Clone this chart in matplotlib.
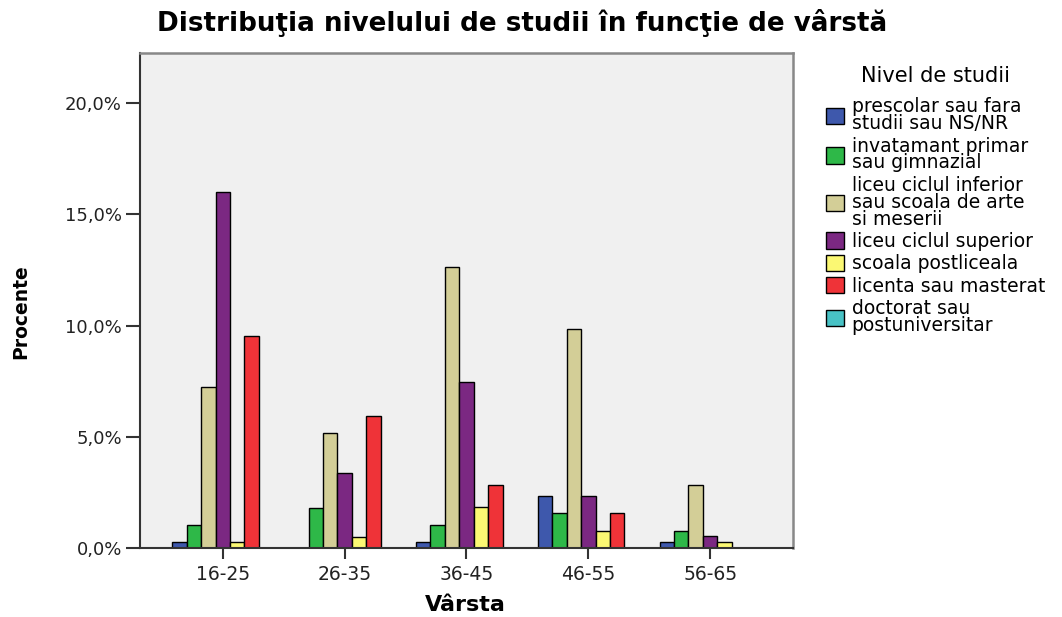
import matplotlib
matplotlib.use("Agg")
import matplotlib.pyplot as plt
import numpy as np

plt.rcParams['font.family'] = ['DejaVu Sans']

# date (procente)
grupe = ['16-25', '26-35', '36-45', '46-55', '56-65']
niveluri = ['prescolar sau fara\nstudii sau NS/NR',
            'invatamant primar\nsau gimnazial',
            'liceu ciclul inferior\nsau scoala de arte\nsi meserii',
            'liceu ciclul superior',
            'scoala postliceala',
            'licenta sau masterat',
            'doctorat sau\npostuniversitar']
prescolar = [0.26, 0.0, 0.26, 2.34, 0.26]
primar = [1.03, 1.81, 1.03, 1.56, 0.78]
liceu_inf = [7.22, 5.15, 12.64, 9.83, 2.83]
liceu_sup = [16.0, 3.36, 7.47, 2.34, 0.52]
postliceala = [0.26, 0.51, 1.83, 0.78, 0.26]
licenta = [9.54, 5.93, 2.83, 1.56, 0.0]
doctorat = [0.0, 0.0, 0.0, 0.0, 0.0]
culori = ['#3E58AC', '#2EB848', '#D3CE97', '#7B2882', '#FBF873', '#EF3338', '#48C2C5']

serii = [prescolar, primar, liceu_inf, liceu_sup, postliceala, licenta, doctorat]

fig = plt.figure(figsize=(10.62, 6.17), dpi=100)
ax = fig.add_axes([0.1318, 0.1118, 0.6149, 0.8022])
ax.set_facecolor('#F0F0F0')

x = np.arange(len(grupe))
w = 0.1185
handles = []
for i, (s, c) in enumerate(zip(serii, culori)):
    b = ax.bar(x + (i - 3) * w, s, width=w, color=c, edgecolor='black', linewidth=1.0)
    handles.append(b)

ax.set_xlim(-0.68, 4.68)
ax.set_ylim(0, 22.25)
ax.set_yticks([0, 5, 10, 15, 20])
ax.set_yticklabels(['0,0%', '5,0%', '10,0%', '15,0%', '20,0%'], fontsize=13, color='#222222')
ax.set_xticks(x)
ax.set_xticklabels(grupe, fontsize=13.5, color='#222222')
ax.tick_params(axis='y', length=10, width=1.5, color='#333333', pad=3)
ax.tick_params(axis='x', length=8, width=1.5, color='#333333', pad=4)

for sp in ['top', 'right']:
    ax.spines[sp].set_color('#888888')
    ax.spines[sp].set_linewidth(1.8)
for sp in ['left', 'bottom']:
    ax.spines[sp].set_color('#333333')
    ax.spines[sp].set_linewidth(1.5)

fig.text(0.020, 0.495, 'Procente', rotation=90, ha='center', va='center',
         fontsize=13.5, fontweight='bold')
fig.text(0.438, 0.019, 'Vârsta', ha='center', va='center',
         fontsize=16, fontweight='bold')
fig.text(0.492, 0.962, 'Distribuţia nivelului de studii în funcţie de vârstă',
         ha='center', va='center', fontsize=18.8, fontweight='bold')

leg = fig.legend(handles, niveluri, loc='upper left', bbox_to_anchor=(0.771, 0.905),
                 title='Nivel de studii', title_fontsize=15, fontsize=13.5,
                 frameon=False, handlelength=0.95, handleheight=0.95,
                 handletextpad=0.4, labelspacing=0.18, borderaxespad=0)
leg._legend_box.align = 'center'
leg._legend_box.sep = 8
for t in leg.get_texts():
    t.set_linespacing(0.86)

fig.savefig('out.png', dpi=100)
